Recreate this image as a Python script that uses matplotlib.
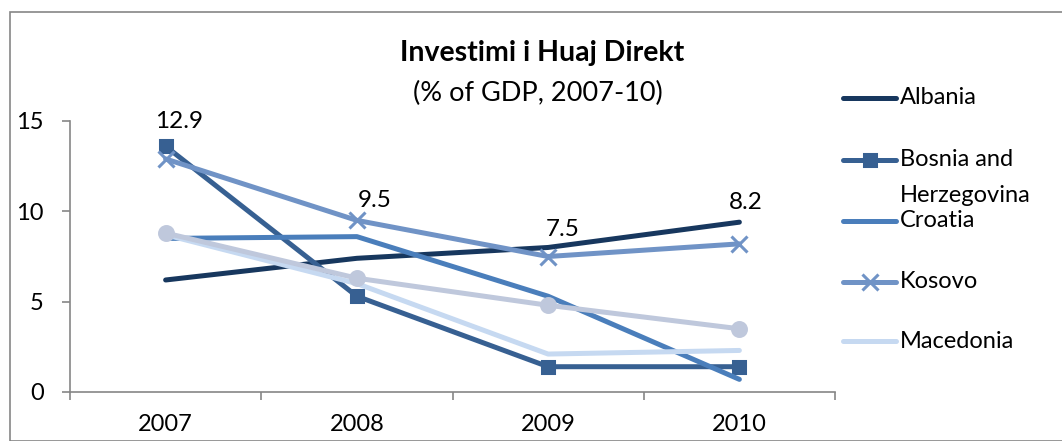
import matplotlib
matplotlib.use("Agg")
import matplotlib.pyplot as plt
from matplotlib.lines import Line2D
from matplotlib.patches import Rectangle

plt.rcParams['font.family'] = ['Lato', 'DejaVu Sans']

# Data
years = ['2007', '2008', '2009', '2010']
albania = [6.2, 7.4, 8.0, 9.4]
bosnia = [13.6, 5.3, 1.4, 1.4]
croatia = [8.5, 8.6, 5.3, 0.7]
kosovo = [12.9, 9.5, 7.5, 8.2]
macedonia = [8.7, 6.0, 2.1, 2.3]
other = [8.8, 6.3, 4.8, 3.5]   # sixth series, its legend entry is cut off
kosovo_labels = ['12.9', '9.5', '7.5', '8.2']

series = [
    ('Albania', albania, '#17375E', None, 0),
    ('Bosnia and\nHerzegovina', bosnia, '#376092', 's', 9),
    ('Croatia', croatia, '#4A7EBB', None, 0),
    ('Kosovo', kosovo, '#7093C6', 'x', 11),
    ('Macedonia', macedonia, '#C6D9F1', None, 0),
    (None, other, '#BFC8DC', 'o', 10),
]

fig = plt.figure(figsize=(10.62, 4.41), dpi=100)
ax = fig.add_axes([70 / 1062, 1 - 392 / 441, 765 / 1062, 271 / 441])

x = list(range(len(years)))
for name, vals, col, mk, ms in series:
    ax.plot(x, vals, color=col, lw=3.6, marker=mk, ms=ms, mew=2.2,
            solid_capstyle='round', solid_joinstyle='round', zorder=3)

# data labels on Kosovo
offsets = [(13, 37), (18, 20), (15, 27), (6, 41)]
for i, (lab, off) in enumerate(zip(kosovo_labels, offsets)):
    ax.annotate(lab, (x[i], kosovo[i]), xytext=(off[0] * 0.72, off[1] * 0.72),
                textcoords='offset points', ha='center', va='center', fontsize=17.5)

ax.set_xlim(-0.5, 3.5)
ax.set_ylim(0, 15)
ax.set_yticks([0, 5, 10, 15])
ax.set_xticks(x)
ax.set_xticklabels(years)
ax.set_xticks([-0.5, 0.5, 1.5, 2.5, 3.5], minor=True)
ax.tick_params(axis='x', which='major', length=0, pad=16, labelsize=17)
ax.tick_params(axis='x', which='minor', length=6, width=1.2, color='#868686', direction='out')
ax.tick_params(axis='y', length=6, width=1.2, color='#868686', pad=13, labelsize=17)
for s in ['top', 'right']:
    ax.spines[s].set_visible(False)
for s in ['left', 'bottom']:
    ax.spines[s].set_color('#868686')
    ax.spines[s].set_linewidth(1.2)

# title
fig.text(542 / 1062, 1 - 53 / 441, 'Investimi i Huaj Direkt', ha='center', va='center',
         fontsize=20.5, fontweight='bold')
fig.text(538 / 1062, 1 - 93 / 441, '(% of GDP, 2007-10)', ha='center', va='center',
         fontsize=19.5)

# legend drawn by hand (Excel-style, last entry is cut off)
leg_y = [98, 160, 221, 282, 341]
for (name, vals, col, mk, ms), yy in zip(series[:5], leg_y):
    yf = 1 - yy / 441
    fig.add_artist(Line2D([843 / 1062, 896 / 1062], [yf, yf], color=col, lw=3.6,
                          solid_capstyle='round'))
    if mk:
        fig.add_artist(Line2D([869.5 / 1062], [yf], color=col, marker=mk, ms=ms, mew=2.2))
    for k, line in enumerate(name.split('\n')):
        fig.text(900 / 1062, 1 - (yy + 35 * k) / 441, line, ha='left', va='center',
                 fontsize=17)

# chart border
fig.add_artist(Rectangle((10 / 1062, 0), 1.1, 1 - 12 / 441, transform=fig.transFigure,
                         fill=False, edgecolor='#868686', lw=1.2))

fig.savefig('out.png', dpi=100)
